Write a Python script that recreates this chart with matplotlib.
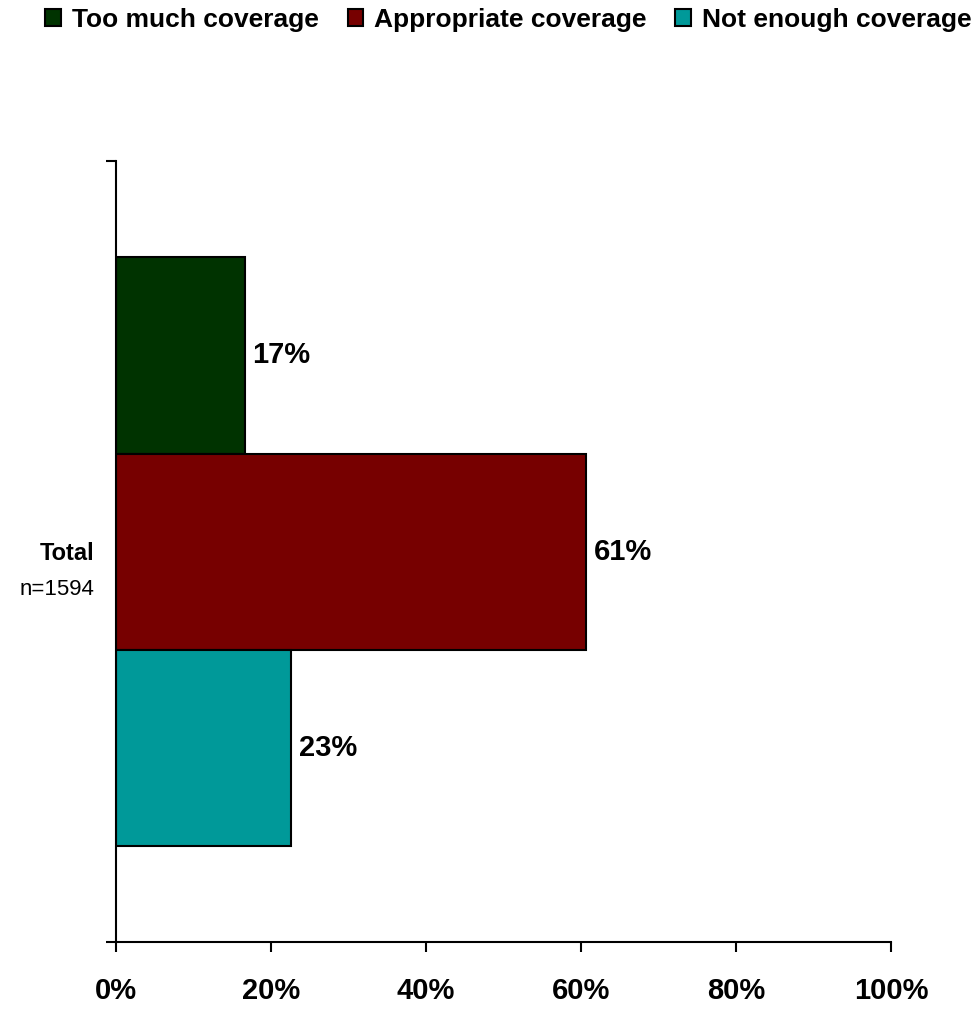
import matplotlib.pyplot as plt
import numpy as np

plt.rcParams['font.family'] = ['Liberation Sans', 'DejaVu Sans']

series = ['Too much coverage', 'Appropriate coverage', 'Not enough coverage']
values = [16.6, 60.6, 22.6]
labels = ['17%', '61%', '23%']
colors = ['#003300', '#770000', '#009999']
xticks = [0, 20, 40, 60, 80, 100]

fig = plt.figure(figsize=(9.72, 10.09), dpi=100)
ax = fig.add_axes([0.1193, 0.0664, 0.7974, 0.774])

bar_h = 0.251
offsets = [bar_h, 0, -bar_h]
for name, v, lab, c, off in zip(series, values, labels, colors, offsets):
    ax.barh(off, v, height=bar_h, color=c, edgecolor='black', linewidth=1.5, label=name)
    ax.text(v + 1.0, off, lab, va='center', ha='left', fontsize=21, fontweight='bold')

ax.set_xlim(0, 100)
ax.set_ylim(-0.5, 0.5)
ax.set_xticks(xticks)
ax.set_xticklabels([f'{t}%' for t in xticks], fontsize=21, fontweight='bold')
ax.set_yticks([-0.5, 0.5])
ax.set_yticklabels([])
ax.tick_params(axis='both', direction='out', length=7, width=1.5, color='black')
ax.tick_params(axis='x', pad=18)
for s in ['top', 'right']:
    ax.spines[s].set_visible(False)
for s in ['left', 'bottom']:
    ax.spines[s].set_linewidth(1.5)

ax.text(-0.028, 0.497, 'Total', transform=ax.transAxes, ha='right', va='center',
        fontsize=17, fontweight='bold')
ax.text(-0.028, 0.451, 'n=1594', transform=ax.transAxes, ha='right', va='center',
        fontsize=16)

fig.legend(loc='upper center', bbox_to_anchor=(0.523, 1.016), ncol=3, frameon=False,
           prop={'weight': 'bold', 'size': 19}, handlelength=0.6, handleheight=0.6,
           handletextpad=0.4, columnspacing=1.1)

fig.savefig('out.png', dpi=100)
